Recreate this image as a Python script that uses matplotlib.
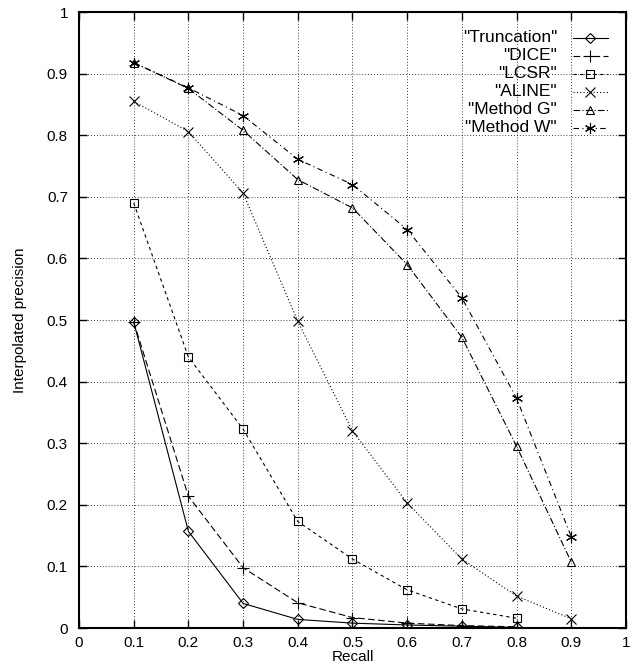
import matplotlib
matplotlib.use("Agg")
import matplotlib.pyplot as plt
import numpy as np

plt.rcParams.update({
    "font.family": ["Liberation Sans", "DejaVu Sans"],
    "font.size": 11,
    "xtick.direction": "in",
    "ytick.direction": "in",
    "xtick.top": True,
    "ytick.right": True,
    "xtick.major.size": 6,
    "ytick.major.size": 6,
})

recall = [0.1, 0.2, 0.3, 0.4, 0.5, 0.6, 0.7, 0.8, 0.9]
truncation = [0.497, 0.157, 0.040, 0.014, 0.008, 0.005, 0.003, 0.001]
dice = [0.497, 0.214, 0.098, 0.041, 0.017, 0.008, 0.004, 0.002]
lcsr = [0.690, 0.440, 0.323, 0.173, 0.112, 0.062, 0.031, 0.016]
aline = [0.855, 0.806, 0.706, 0.498, 0.320, 0.203, 0.112, 0.052, 0.015]
method_g = [0.918, 0.876, 0.808, 0.728, 0.682, 0.590, 0.472, 0.295, 0.107]
method_w = [0.918, 0.877, 0.832, 0.761, 0.720, 0.647, 0.536, 0.373, 0.148]

asterisk = (6, 2, 0)
series = [
    ('"Truncation"', truncation, "D", (None, None), 5),
    ('"DICE"', dice, "+", (6, 3), 8),
    ('"LCSR"', lcsr, "s", (3, 3), 6),
    ('"ALINE"', aline, "x", (1, 2), 7),
    ('"Method G"', method_g, "^", (6, 2, 1, 2), 6),
    ('"Method W"', method_w, asterisk, (5, 3, 1, 3), 8),
]

fig = plt.figure(figsize=(6.32, 6.71), dpi=100)
ax = fig.add_axes([0.125, 0.064, 0.8655, 0.918])

for label, vals, marker, dashes, ms in series:
    x = recall[:len(vals)]
    line, = ax.plot(x, vals, color="black", lw=0.8, marker=marker, ms=ms,
                    mfc="none", mew=0.8)
    if dashes[0] is not None:
        line.set_dashes(dashes)

# gnuplot-style key: right-aligned titles, samples on the right
y0 = 0.958
dy = 0.0292
for i, (label, vals, marker, dashes, ms) in enumerate(series):
    y = y0 - i * dy
    ax.text(0.874, y, label, transform=ax.transAxes, ha="right", va="center",
            fontsize=12.5)
    line, = ax.plot([0.903, 0.967], [y, y], transform=ax.transAxes,
                    color="black", lw=0.8)
    if dashes[0] is not None:
        line.set_dashes(dashes)
    ax.plot([0.935], [y], transform=ax.transAxes, color="black",
            marker=marker, ms=ms, mfc="none", mew=0.8, ls="none")

ticks = np.arange(0, 1.01, 0.1)
tick_labels = ["0", "0.1", "0.2", "0.3", "0.4", "0.5", "0.6", "0.7",
               "0.8", "0.9", "1"]
ax.set_xlim(0, 1)
ax.set_ylim(0, 1)
ax.set_xticks(ticks)
ax.set_yticks(ticks)
ax.set_xticklabels(tick_labels)
ax.set_yticklabels(tick_labels)
ax.grid(True, color="black", ls=(0, (1, 2.5)), lw=0.6)
for s in ax.spines.values():
    s.set_linewidth(1.5)
ax.tick_params(axis="x", width=1.0, pad=6)
ax.tick_params(axis="y", width=1.0, pad=8)
ax.set_xlabel("Recall", labelpad=0)
ax.set_ylabel("Interpolated precision", labelpad=14)

fig.savefig("out.png", dpi=100)
